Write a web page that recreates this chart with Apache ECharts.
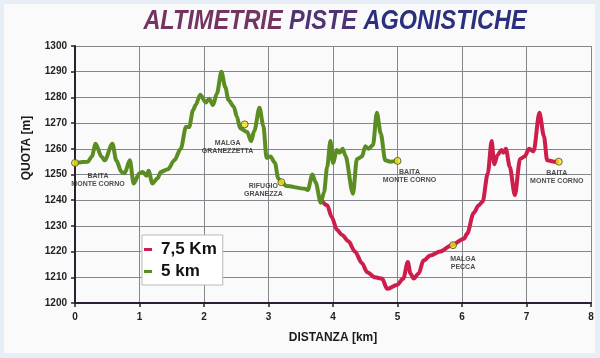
<!DOCTYPE html>
<html>
<head>
<meta charset="utf-8">
<script src="https://cdn.jsdelivr.net/npm/echarts@6/dist/echarts.min.js"></script>
<style>
  html, body { margin:0; padding:0; background:#e8eef5; }
  #wrap { position:relative; width:600px; height:358px; }
  #panel { position:absolute; left:4px; top:4px; width:591px; height:349px; background:#fafafa; }
  #chart { position:absolute; left:0; top:0; width:600px; height:358px; }
</style>
</head>
<body>
<div id="wrap"><div id="panel"></div><div id="chart"></div></div>
<script>
// ---- data ----
const seriesNames = ['7,5 Km', '5 km'];
const dist5 = [0,0.2,0.26,0.32,0.41,0.46,0.58,0.64,0.72,0.77,0.85,0.91,1.0,1.05,1.11,1.14,1.2,1.28,1.33,1.44,1.54,1.64,1.72,1.77,1.83,1.87,1.94,2.03,2.08,2.14,2.2,2.27,2.33,2.38,2.46,2.51,2.56,2.67,2.73,2.78,2.86,2.92,2.97,3.03,3.1,3.15,3.2,3.28,3.56,3.61,3.68,3.73,3.81,3.86,3.91,3.96,4.0,4.06,4.1,4.15,4.19,4.31,4.37,4.45,4.5,4.55,4.62,4.68,4.74,4.81,4.89,5.0];
const alt5  = [1254.5,1255,1257,1262,1257,1255.5,1262,1255.5,1251,1250.5,1255.5,1246.5,1250.5,1251,1249.5,1251.5,1246.5,1248.5,1251,1252,1255.5,1260,1268.5,1268.5,1275,1277,1281,1278,1279.5,1277,1281.5,1290,1284,1279,1276.5,1272.5,1268,1266.5,1263,1267,1276,1269,1256.5,1257,1254.5,1248.5,1247,1245.5,1244.5,1244,1250,1247,1239,1243,1253,1263,1254.5,1259.5,1258.5,1260,1257.5,1242.5,1256,1257,1261,1260,1261.5,1274,1266,1255.5,1255,1255.3];
const dist75 = [3.82,3.91,3.98,4.06,4.14,4.24,4.34,4.45,4.53,4.65,4.76,4.84,4.99,5.09,5.16,5.2,5.25,5.33,5.4,5.51,5.66,5.84,6.03,6.08,6.18,6.26,6.32,6.4,6.46,6.5,6.55,6.61,6.64,6.68,6.74,6.82,6.9,6.97,7.04,7.11,7.2,7.27,7.32,7.43,7.5];
const alt75  = [1240,1238,1233.5,1228.5,1226.5,1224,1220,1215.5,1212,1210,1209.5,1205.5,1207,1209.5,1216,1211.5,1209.5,1211.5,1216.5,1218.5,1220,1222.5,1225,1227,1235,1238,1239.5,1250.5,1263,1254,1257.5,1259.5,1258.5,1260,1253,1242,1256,1257,1260,1259,1274,1265,1255.5,1255,1255];
const placeNames = ['BAITA\nMONTE CORNO','MALGA\nGRANEZZETTA','RIFUGIO\nGRANEZZA','BAITA\nMONTE CORNO','MALGA\nPECCA','BAITA\nMONTE CORNO'];
const placeX = [0, 2.63, 3.2, 5.0, 5.86, 7.5];
const placeY = [1254.5, 1269.5, 1247, 1255.3, 1222.5, 1255];
const xTicks = [0,1,2,3,4,5,6,7,8];
const yTicks = [1200,1210,1220,1230,1240,1250,1260,1270,1280,1290,1300];
const titleWords = ['ALTIMETRIE', 'PISTE', 'AGONISTICHE'];
const xName = 'DISTANZA [km]';
const yName = 'QUOTA [m]';

// ---- styles ----
const labelOffsets = [[23,17],[-17,23],[-18,8],[12,15.5],[10,18],[-2,15]];
const FONT = 'Liberation Sans';
const titleColors = ['#733462', '#4f3374', '#2b307d'];

const chart = echarts.init(document.getElementById('chart'), null, {renderer:'canvas'});
const zip = (xs, ys) => xs.map((x,i) => [x, ys[i]]);

const titleRich = {};
titleWords.forEach((w, i) => {
  titleRich['w' + i] = { fill: titleColors[i], font: 'italic bold 27px "Liberation Sans"' };
});
const titleStr = titleWords.map((w, i) => '{w' + i + '|' + w + '}').join('{w1| }');

chart.setOption({
  animation: false,
  backgroundColor: 'transparent',
  textStyle: { fontFamily: FONT },
  grid: { left: 75, right: 9, top: 46, bottom: 55 },
  xAxis: {
    type: 'value', min: xTicks[0], max: xTicks[xTicks.length-1], interval: 1,
    name: xName, nameLocation: 'middle', nameGap: 29,
    nameTextStyle: { fontSize: 12, fontWeight: 'bold', color: '#1a1a1a', fontFamily: FONT },
    axisLine: { show: true, lineStyle: { color: '#2a2030', width: 2 } },
    axisTick: { show: true, length: 4, lineStyle: { color: '#2a2030', width: 1.5 } },
    axisLabel: { fontSize: 10, fontWeight: 'bold', color: '#222', margin: 9, formatter: v => String(v) },
    splitLine: { show: true, lineStyle: { color: '#85858c', width: 1 } }
  },
  yAxis: {
    type: 'value', min: yTicks[0], max: yTicks[yTicks.length-1], interval: 10,
    axisLine: { show: true, lineStyle: { color: '#2a2030', width: 2 } },
    axisTick: { show: true, length: 4, lineStyle: { color: '#2a2030', width: 1.5 } },
    axisLabel: { fontSize: 10, fontWeight: 'bold', color: '#222', margin: 8, formatter: v => String(v) },
    splitLine: { show: true, lineStyle: { color: '#85858c', width: 1 } }
  },
  legend: {
    data: seriesNames,
    orient: 'vertical', left: 142, top: 235,
    backgroundColor: '#ffffff', borderColor: '#b8b8b8', borderWidth: 1,
    padding: [6, 6, 5, 2], itemGap: 5,
    icon: 'rect', itemWidth: 8, itemHeight: 3,
    textStyle: { fontSize: 17, fontWeight: 'bold', color: '#111', fontFamily: FONT, padding: [0,0,0,4] }
  },
  graphic: [
    {
      type: 'text', x: 335, y: 21, scaleX: 0.87, scaleY: 1.05,
      style: {
        text: titleStr, rich: titleRich, textAlign: 'center', textVerticalAlign: 'middle',
        font: 'italic bold 27px "Liberation Sans"', fill: '#4f3374'
      }
    },
    {
      type: 'text', x: 27, y: 148, rotation: Math.PI/2,
      style: { text: yName, textAlign: 'center', textVerticalAlign: 'middle',
        font: 'bold 12px "Liberation Sans"', fill: '#1a1a1a' }
    }
  ],
  series: [
    {
      name: seriesNames[0], type: 'line', data: zip(dist75, alt75),
      showSymbol: false, smooth: 0.3, smoothMonotone: 'x',
      lineStyle: { color: '#cc1d4d', width: 4 }, itemStyle: { color: '#cc1d4d' }, z: 3
    },
    {
      name: seriesNames[1], type: 'line', data: zip(dist5, alt5),
      showSymbol: false, smooth: 0.3, smoothMonotone: 'x',
      lineStyle: { color: '#5b8d22', width: 4 }, itemStyle: { color: '#5b8d22' }, z: 4
    },
    {
      type: 'scatter', z: 6, symbolSize: 7,
      itemStyle: { color: '#f1e21a', borderColor: '#4a4a30', borderWidth: 1 },
      data: placeNames.map((n, i) => ({
        name: n, value: [placeX[i], placeY[i]],
        label: { show: true, position: 'inside', offset: labelOffsets[i], formatter: '{b}',
          fontSize: 7, fontWeight: 'bold', color: '#222', lineHeight: 8, fontFamily: FONT, align: 'center', verticalAlign: 'middle' }
      }))
    }
  ]
});
</script>
</body>
</html>
